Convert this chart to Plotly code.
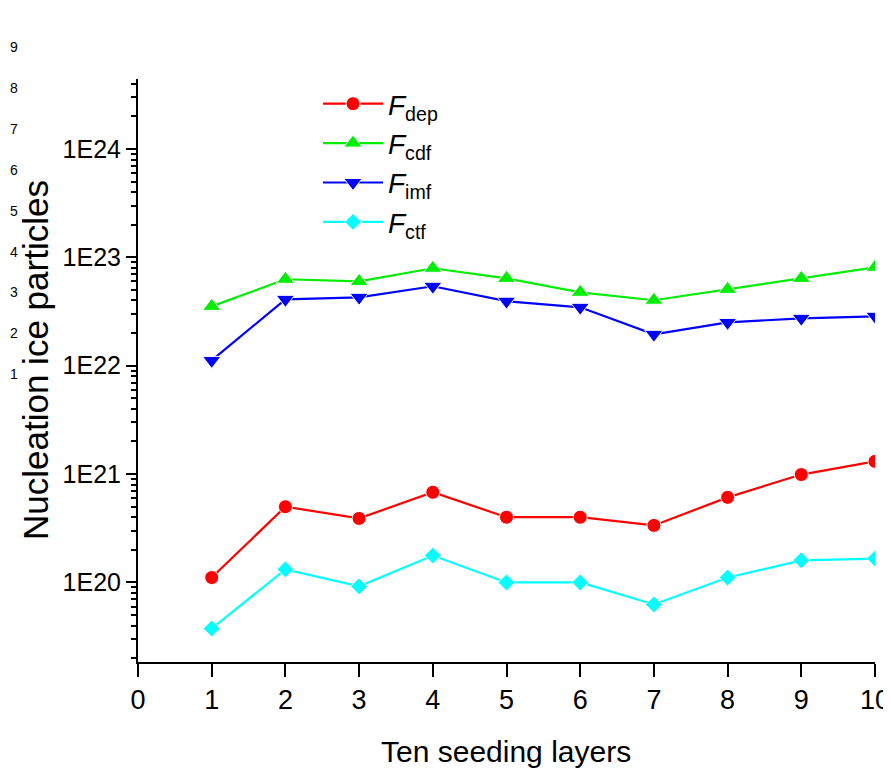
import plotly.graph_objects as go

layers = [1, 2, 3, 4, 5, 6, 7, 8, 9, 10]
f_dep = [1.11e20, 5.0e20, 3.9e20, 6.8e20, 4.0e20, 4.0e20, 3.36e20, 6.1e20, 9.9e20, 1.31e21]
f_cdf = [3.53e22, 6.28e22, 6.0e22, 7.93e22, 6.4e22, 4.76e22, 4.02e22, 5.07e22, 6.4e22, 8.1e22]
f_imf = [1.12e22, 4.1e22, 4.28e22, 5.41e22, 3.94e22, 3.46e22, 1.95e22, 2.51e22, 2.74e22, 2.86e22]
f_ctf = [3.76e19, 1.32e20, 9.2e19, 1.77e20, 1.0e20, 1.0e20, 6.27e19, 1.11e20, 1.6e20, 1.66e20]

series_names = ["<i>F</i><sub>dep</sub>", "<i>F</i><sub>cdf</sub>",
                "<i>F</i><sub>imf</sub>", "<i>F</i><sub>ctf</sub>"]
y_tickvals = [1e20, 1e21, 1e22, 1e23, 1e24]
y_ticktext = ["1E20", "1E21", "1E22", "1E23", "1E24"]
x_tickvals = [0, 1, 2, 3, 4, 5, 6, 7, 8, 9, 10]
stray_labels = ["9", "8", "7", "6", "5", "4", "3", "2", "1"]
x_title = "Ten seeding layers"
y_title = "Nucleation ice particles"

FONT = "Liberation Sans, Arial, sans-serif"

styles = [
    dict(color="#FF0000", symbol="circle", size=14),
    dict(color="#00EE00", symbol="triangle-up", size=16),
    dict(color="#0000FF", symbol="triangle-down", size=16),
    dict(color="#00FFFF", symbol="diamond", size=13),
]

fig = go.Figure()
for name, vals, st in zip(series_names, [f_dep, f_cdf, f_imf, f_ctf], styles):
    fig.add_trace(go.Scatter(
        x=layers, y=vals, name=name, mode="lines+markers",
        line=dict(color=st["color"], width=2.2),
        marker=dict(symbol=st["symbol"], size=st["size"], color=st["color"],
                    line=dict(color="white", width=1)),
    ))

minor_vals = [float(m) * 10.0 ** e for e in range(19, 25) for m in range(2, 10)]

# page body adds an 8px offset; figure coordinates below are screen - 8
W, H = 883, 766
ML, MR, MT, MB = 130, 16, 71, 112
pw, ph = W - ML - MR, H - MT - MB


def px_x(px):
    return (px - ML) / pw


def px_y(py):
    return (H - MB - py) / ph


annotations = []
for i, t in enumerate(stray_labels):
    py = 39 + i * 40.9
    annotations.append(dict(
        text=t, xref="paper", yref="paper",
        x=px_x(0), y=px_y(py),
        xanchor="left", yanchor="middle", showarrow=False,
        font=dict(family=FONT, size=14, color="black"),
    ))
annotations.append(dict(
    text=y_title, xref="paper", yref="paper", x=px_x(27), y=px_y(352),
    xanchor="center", yanchor="middle", textangle=-90, showarrow=False,
    font=dict(family=FONT, size=35, color="black"),
))
annotations.append(dict(
    text=x_title, xref="paper", yref="paper", x=px_x(498), y=px_y(743),
    xanchor="center", yanchor="middle", showarrow=False,
    font=dict(family=FONT, size=30, color="black"),
))

fig.update_layout(
    width=W, height=H, autosize=False,
    margin=dict(l=ML, r=MR, t=MT, b=MB, pad=0, autoexpand=False),
    paper_bgcolor="white", plot_bgcolor="white",
    font=dict(family=FONT, color="black"),
    showlegend=True,
    legend=dict(
        x=px_x(310), y=px_y(71), xanchor="left", yanchor="top",
        bgcolor="rgba(0,0,0,0)", font=dict(family=FONT, size=28, color="black"),
        itemwidth=60, tracegroupgap=0,
    ),
    xaxis=dict(
        range=[0, 10], tickvals=x_tickvals, showgrid=False, zeroline=False,
        automargin=False,
        showline=True, linecolor="black", linewidth=2,
        ticks="outside", ticklen=13, tickwidth=2, tickcolor="black",
        tickfont=dict(family=FONT, size=27, color="black"),
    ),
    yaxis=dict(
        type="log", range=[19.266, 24.646], tickvals=y_tickvals, ticktext=y_ticktext,
        showgrid=False, zeroline=False, automargin=False,
        showline=True, linecolor="black", linewidth=2,
        ticks="outside", ticklen=10, tickwidth=2, tickcolor="black",
        tickfont=dict(family=FONT, size=25, color="black"),
        minor=dict(tickvals=minor_vals, ticks="outside", ticklen=5, tickwidth=2,
                   tickcolor="black", showgrid=False),
    ),
    annotations=annotations,
)

fig.write_html("out.html")
